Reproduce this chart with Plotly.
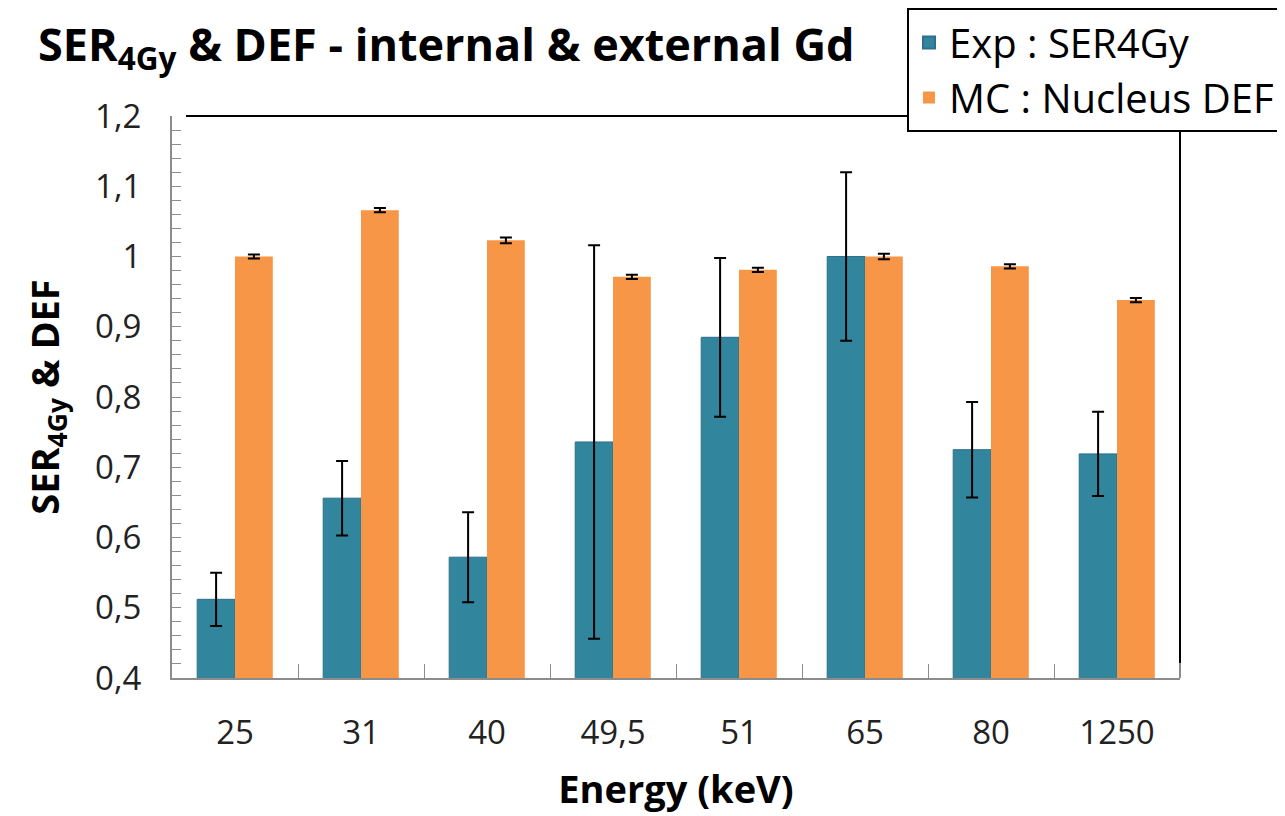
import plotly.graph_objects as go

categories = ["25", "31", "40", "49,5", "51", "65", "80", "1250"]
exp_ser = [0.512, 0.656, 0.572, 0.736, 0.885, 1.0, 0.725, 0.719]
exp_err = [0.038, 0.053, 0.064, 0.280, 0.113, 0.120, 0.068, 0.060]
mc_def = [1.0, 1.066, 1.023, 0.971, 0.981, 1.0, 0.986, 0.938]
mc_err = [0.003, 0.003, 0.004, 0.003, 0.003, 0.004, 0.003, 0.003]
ytick_vals = [0.4, 0.5, 0.6, 0.7, 0.8, 0.9, 1.0, 1.1, 1.2]
ytick_text = ["0,4", "0,5", "0,6", "0,7", "0,8", "0,9", "1", "1,1", "1,2"]

BLUE = "#31859C"
ORANGE = "#F79646"
FONT = "Open Sans"
GRAY = "#8C8C8C"

fig = go.Figure()
fig.add_trace(go.Bar(
    x=categories, y=exp_ser, name="Exp : SER4Gy",
    marker=dict(color=BLUE, line=dict(color="#2E6E8E", width=1)),
    error_y=dict(type="data", array=exp_err, color="black", thickness=2, width=6),
))
fig.add_trace(go.Bar(
    x=categories, y=mc_def, name="MC : Nucleus DEF",
    marker=dict(color=ORANGE, line=dict(width=0)),
    error_y=dict(type="data", array=mc_err, color="black", thickness=2, width=6),
))

# page has an 8px body margin; figure placed accordingly
W, H = 1277, 808
L, R, T, B = 164, 105, 108, 138
pw, ph = W - L - R, H - T - B

fig.update_layout(
    width=W, height=H,
    margin=dict(l=L, r=R, t=T, b=B, pad=0, autoexpand=False),
    paper_bgcolor="white", plot_bgcolor="white",
    barmode="group", bargap=0.4, bargroupgap=0,
    font=dict(family=FONT, color="#222222"),
    showlegend=True,
    legend=dict(
        x=(899 - L) / pw, y=(H - B) / ph, xanchor="left", yanchor="top",
        bgcolor="white", bordercolor="black", borderwidth=2,
        font=dict(family=FONT, size=40, color="black"),
        tracegroupgap=0, itemsizing="constant",
    ),
    title=dict(
        text="<b>SER<sub>4Gy</sub> & DEF - internal & external Gd</b>",
        x=30 / W, xanchor="left", y=1 - 37 / H, yanchor="middle",
        font=dict(family=FONT, size=45, color="black"),
    ),
    xaxis=dict(
        showline=True, linecolor=GRAY, linewidth=2,
        ticks="inside", tickson="boundaries", ticklen=14, tickcolor=GRAY, tickwidth=1,
        tickfont=dict(family=FONT, size=33, color="#222222"),
        ticklabelstandoff=24,
        title=dict(text="<b>Energy (keV)</b>", font=dict(family=FONT, size=38, color="black"), standoff=24),
        showgrid=False, zeroline=False,
    ),
    yaxis=dict(
        range=[0.4, 1.2],
        tickvals=ytick_vals, ticktext=ytick_text,
        showline=True, linecolor=GRAY, linewidth=2,
        ticks="inside", ticklen=9, tickcolor=GRAY, tickwidth=1,
        minor=dict(dtick=0.02, tick0=0.4, ticks="inside", ticklen=9, tickcolor=GRAY, tickwidth=1, showgrid=False),
        tickfont=dict(family=FONT, size=33, color="#222222"),
        ticklabelstandoff=22,
        title=dict(text="<b>SER<sub>4Gy</sub> & DEF</b>", font=dict(family=FONT, size=38, color="black"), standoff=24),
        showgrid=False, zeroline=False,
    ),
)

# Top and right black frame lines
fig.add_shape(type="line", xref="paper", yref="paper", x0=14 / pw, x1=1, y0=1, y1=1,
              line=dict(color="black", width=2), layer="above")
fig.add_shape(type="line", xref="paper", yref="paper", x0=1, x1=1, y0=15 / ph, y1=1,
              line=dict(color="black", width=2), layer="above")
fig.add_shape(type="line", xref="paper", yref="paper", x0=1, x1=1, y0=0, y1=15 / ph,
              line=dict(color=GRAY, width=2), layer="above")

fig.write_html("out.html")
